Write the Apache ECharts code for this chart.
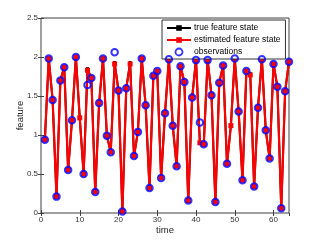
<!DOCTYPE html>
<html>
<head>
<meta charset="utf-8">
<script src="https://cdn.jsdelivr.net/npm/echarts@6/dist/echarts.min.js"></script>
<style>
html,body{margin:0;padding:0;background:#fff;}
#chart{width:319px;height:240px;}
</style>
</head>
<body>
<div id="chart"></div>
<script>
var time = [1,2,3,4,5,6,7,8,9,10,11,12,13,14,15,16,17,18,19,20,21,22,23,24,25,26,27,28,29,30,31,32,
            33,34,35,36,37,38,39,40,41,42,43,44,45,46,47,48,49,50,51,52,53,54,55,56,57,58,59,60,61,62,63,64];
var estimated = [0.94,1.98,1.45,0.21,1.70,1.87,0.55,1.19,2.00,1.22,0.50,1.83,1.73,0.27,1.41,1.98,
                 0.99,0.78,1.91,1.57,0.02,1.60,1.91,0.73,1.04,1.98,1.38,0.32,1.76,1.82,0.45,1.28,
                 1.97,1.12,0.60,1.88,1.68,0.16,1.48,1.96,0.90,0.88,1.96,1.51,0.14,1.67,1.89,0.63,
                 1.12,1.98,1.30,0.42,1.82,1.77,0.34,1.35,1.97,1.06,0.70,1.91,1.62,0.06,1.56,1.94];
var trueState = [0.94,1.98,1.45,0.21,1.70,1.87,0.55,1.19,2.00,1.22,0.50,1.85,1.73,0.27,1.41,1.98,
                 0.99,0.78,1.93,1.57,0.02,1.60,1.93,0.73,1.04,1.98,1.38,0.32,1.76,1.82,0.45,1.28,
                 1.97,1.12,0.60,1.88,1.68,0.16,1.48,1.96,0.90,0.88,1.96,1.51,0.14,1.67,1.89,0.63,
                 1.12,1.98,1.30,0.42,1.82,1.79,0.34,1.35,1.97,1.06,0.70,1.91,1.62,0.06,1.56,1.94];
var observations = [0.94,1.98,1.45,0.21,1.70,1.87,0.55,1.19,2.00,null,0.50,1.64,1.73,0.27,1.41,1.98,
                 0.99,0.78,2.06,1.57,0.02,1.60,null,0.73,1.04,1.98,1.38,0.32,1.76,1.82,0.45,1.28,
                 1.97,1.12,0.60,1.88,1.68,0.16,1.48,1.96,1.16,0.88,1.96,1.51,0.14,1.67,1.89,0.63,
                 null,1.98,1.30,0.42,1.82,null,0.34,1.35,1.97,1.06,0.70,1.91,1.62,0.06,1.56,1.94];
var xTicks = [0,10,20,30,40,50,60];
var yTicks = [0,0.5,1,1.5,2,2.5];
var seriesNames = ['true feature state','estimated feature state','observations'];

function pairs(ys){
  var out = [];
  for (var i = 0; i < time.length; i++) {
    if (ys[i] !== null) out.push([time[i], ys[i]]);
  }
  return out;
}

var FONT = 'Liberation Sans, Arial, Helvetica, sans-serif';
var AX = '#404040';
var chart = echarts.init(document.getElementById('chart'), null, {renderer:'canvas'});
var tickCommon = {show:true, inside:true, length:3, lineStyle:{color:AX, width:1}};
chart.setOption({
  animation:false,
  backgroundColor:'#fff',
  grid:{left:41, right:30, top:18, bottom:27, show:true, borderColor:AX, borderWidth:1,
        backgroundColor:'#fff', containLabel:false, outerBoundsMode:'none'},
  legend:{
    orient:'vertical', left:162, top:20,
    data:[
      {name:seriesNames[0]},
      {name:seriesNames[1]},
      {name:seriesNames[2], itemStyle:{borderWidth:1.8}}
    ],
    padding:[3,5,2,4],
    itemGap:2, itemWidth:24, itemHeight:7,
    backgroundColor:'#fff', borderColor:'#333', borderWidth:1, borderRadius:0,
    textStyle:{fontFamily:FONT, fontSize:8.5, color:'#000', lineHeight:10, padding:[0,0,0,-2]}
  },
  xAxis:[{
    type:'value', min:xTicks[0], max:64, interval:10, position:'bottom',
    name:'time', nameLocation:'middle', nameGap:12, nameMoveOverlap:false,
    nameTextStyle:{fontFamily:FONT, fontSize:9.5, color:'#262626'},
    axisLine:{show:false}, axisTick:tickCommon, splitLine:{show:false},
    axisLabel:{fontFamily:FONT, fontSize:8, color:'#333', margin:3, showMaxLabel:false,
      formatter:function(v){ return xTicks.indexOf(v) >= 0 ? String(v) : ''; }}
  },{
    type:'value', min:xTicks[0], max:64, interval:10, position:'top',
    axisLine:{show:false}, axisTick:tickCommon, splitLine:{show:false}, axisLabel:{show:false}
  }],
  yAxis:[{
    type:'value', min:yTicks[0], max:2.5, interval:0.5, position:'left',
    name:'feature', nameLocation:'middle', nameGap:16, nameRotate:90, nameMoveOverlap:false,
    nameTextStyle:{fontFamily:FONT, fontSize:9.5, color:'#262626'},
    axisLine:{show:false}, axisTick:tickCommon, splitLine:{show:false},
    axisLabel:{fontFamily:FONT, fontSize:8, color:'#333', margin:3}
  },{
    type:'value', min:yTicks[0], max:2.5, interval:0.5, position:'right',
    axisLine:{show:false}, axisTick:tickCommon, splitLine:{show:false}, axisLabel:{show:false}
  }],
  series:[{
    name:seriesNames[0], type:'line', data:pairs(trueState), z:2,
    symbol:'rect', symbolSize:3, showSymbol:true,
    lineStyle:{color:'#000', width:2}, itemStyle:{color:'#000'}
  },{
    name:seriesNames[1], type:'line', data:pairs(estimated), z:3,
    symbol:'rect', symbolSize:5, showSymbol:true,
    lineStyle:{color:'#ff0000', width:2.2}, itemStyle:{color:'#ff0000'}
  },{
    name:seriesNames[2], type:'scatter', data:pairs(observations), z:4,
    symbol:'circle', symbolSize:6.5,
    itemStyle:{color:'rgba(0,0,0,0)', borderColor:'#0000ff', borderWidth:2}
  }]
});
</script>
</body>
</html>
